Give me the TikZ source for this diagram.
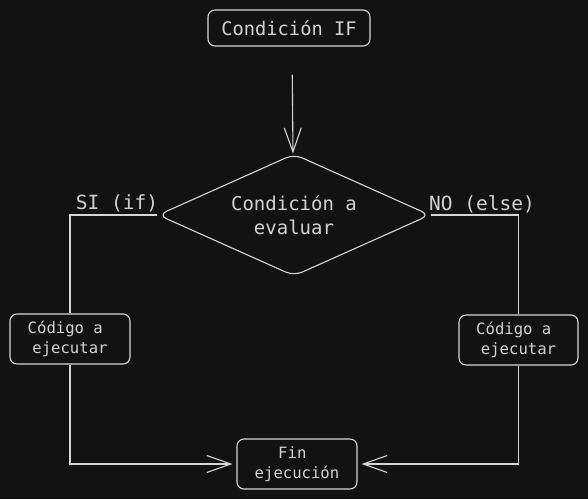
\documentclass[tikz,border=0pt]{standalone}
\usepackage{fontspec}
\newfontfamily\monof{DejaVu Sans Mono}
\usetikzlibrary{shapes.geometric,arrows.meta}
\definecolor{bg}{HTML}{121212}
\definecolor{ink}{HTML}{D6D6D6}
\definecolor{txt}{HTML}{D2D2D2}
\tikzset{
  box/.style={draw=ink, line width=1.1pt, rounded corners=7pt, text=txt, align=center, inner sep=0pt},
  toptxt/.style={font=\monof\fontsize{18.7}{24}\selectfont},
  bigtxt/.style={font=\monof\fontsize{19}{24}\selectfont},
  smalltxt/.style={font=\monof\fontsize{15.6}{19.5}\selectfont},
  lbl/.style={text=txt, font=\monof\fontsize{19.5}{24}\selectfont, inner sep=0pt},
  conn/.style={draw=ink, line width=1.1pt},
  arr/.style={conn, -{Straight Barb[length=24pt, width=17pt, line width=1.1pt]}},
}
\begin{document}
\begin{tikzpicture}[x=1pt,y=-1pt]
\fill[bg] (0,0) rectangle (588,499);
\useasboundingbox (0,0) rectangle (588,499);
\node[box, toptxt, minimum width=162pt, minimum height=36pt] (top) at (289,28) {Condición IF};
\node[draw=ink, line width=1.1pt, diamond, rounded corners=9pt, aspect=2.2, minimum width=272pt, minimum height=122pt, inner sep=0pt, text=txt, align=center, bigtxt] (dia) at (294,215) {Condición a\\evaluar};
\node[box, smalltxt, minimum width=120pt, minimum height=50pt] (left) at (70,339) {Código a\hphantom{a}\\ejecutar};
\node[box, smalltxt, minimum width=119pt, minimum height=50pt] (right) at (518.5,340) {Código a\hphantom{a}\\ejecutar};
\node[box, smalltxt, minimum width=120pt, minimum height=50pt] (fin) at (297,464) {Fin\hphantom{a}\\ejecución};
\node[lbl, anchor=base] (si) at (117,209) {SI (if)};
\node[lbl, anchor=base] (no) at (482,210) {NO (else)};
\draw[arr, shorten <=28pt] ([xshift=3pt]top.south) -- ([xshift=-1pt]dia.north);
\draw[conn] (dia.west) -| (left.north);
\draw[arr, shorten >=4pt] (left.south) |- (fin.west);
\draw[conn] (dia.east) -| (right.north);
\draw[arr, shorten >=4pt] (right.south) |- (fin.east);
\end{tikzpicture}
\end{document}
